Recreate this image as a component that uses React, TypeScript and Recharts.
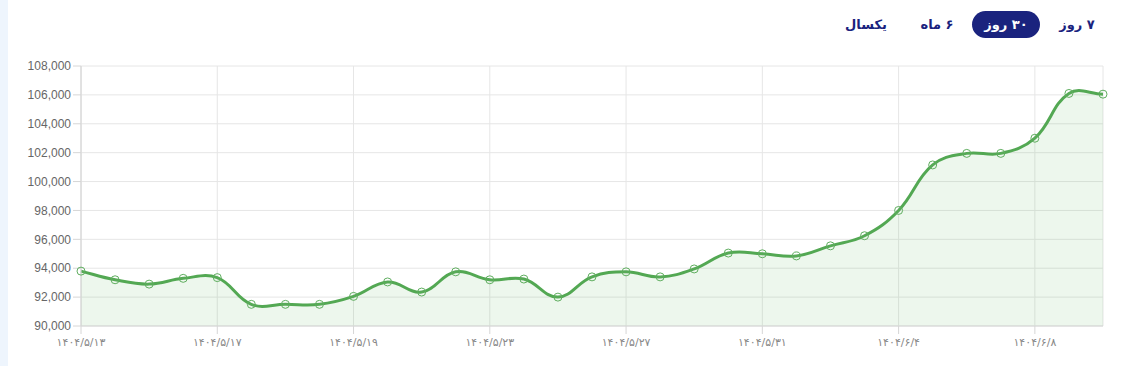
import React from "react";
import {
  AreaChart,
  Area,
  XAxis,
  YAxis,
  CartesianGrid,
} from "recharts";

// dates on the x axis (only every 4th one is labelled)
const dates = [
  "۱۴۰۴/۵/۱۳", "۱۴۰۴/۵/۱۴", "۱۴۰۴/۵/۱۵", "۱۴۰۴/۵/۱۶", "۱۴۰۴/۵/۱۷",
  "۱۴۰۴/۵/۱۷ ", "۱۴۰۴/۵/۱۸", "۱۴۰۴/۵/۱۸ ", "۱۴۰۴/۵/۱۹", "۱۴۰۴/۵/۲۰",
  "۱۴۰۴/۵/۲۱", "۱۴۰۴/۵/۲۲", "۱۴۰۴/۵/۲۳", "۱۴۰۴/۵/۲۴", "۱۴۰۴/۵/۲۵",
  "۱۴۰۴/۵/۲۶", "۱۴۰۴/۵/۲۷", "۱۴۰۴/۵/۲۸", "۱۴۰۴/۵/۲۹", "۱۴۰۴/۵/۳۰",
  "۱۴۰۴/۵/۳۱", "۱۴۰۴/۶/۱", "۱۴۰۴/۶/۲", "۱۴۰۴/۶/۳", "۱۴۰۴/۶/۴",
  "۱۴۰۴/۶/۵", "۱۴۰۴/۶/۶", "۱۴۰۴/۶/۷", "۱۴۰۴/۶/۸", "۱۴۰۴/۶/۹",
  "۱۴۰۴/۶/۱۰",
];

const prices = [
  93800, 93200, 92900, 93300, 93350, 91500, 91500, 91500, 92050, 93050,
  92350, 93750, 93200, 93250, 92000, 93400, 93750, 93400, 93950, 95050,
  95000, 94850, 95550, 96250, 98000, 101150, 101950, 101950, 103000, 106100,
  106050,
];

const yTicks = [90000, 92000, 94000, 96000, 98000, 100000, 102000, 104000, 106000, 108000];

const ranges = ["۷ روز", "۳۰ روز", "۶ ماه", "یکسال"];
const activeRange = "۳۰ روز";

const data = dates.map((date, i) => ({ date, price: prices[i] }));

// spline like chart.js (tension 0.4), written as a d3 curve factory
function smoothCurve(context: any) {
  let pts: number[][] = [];
  let line = NaN;
  const t = 0.4;
  return {
    areaStart() {
      line = 0;
    },
    areaEnd() {
      line = NaN;
    },
    lineStart() {
      pts = [];
    },
    lineEnd() {
      const n = pts.length;
      if (n) {
        if (line) context.lineTo(pts[0][0], pts[0][1]);
        else context.moveTo(pts[0][0], pts[0][1]);
        const cps = pts.map((cur, i) => {
          const prev = pts[i - 1] || cur;
          const next = pts[i + 1] || cur;
          const d01 = Math.hypot(cur[0] - prev[0], cur[1] - prev[1]);
          const d12 = Math.hypot(next[0] - cur[0], next[1] - cur[1]);
          let s01 = d01 / (d01 + d12);
          let s12 = d12 / (d01 + d12);
          if (!isFinite(s01)) s01 = 0;
          if (!isFinite(s12)) s12 = 0;
          const fa = t * s01;
          const fb = t * s12;
          return {
            px: cur[0] - fa * (next[0] - prev[0]),
            py: cur[1] - fa * (next[1] - prev[1]),
            nx: cur[0] + fb * (next[0] - prev[0]),
            ny: cur[1] + fb * (next[1] - prev[1]),
          };
        });
        for (let i = 1; i < n; i++) {
          context.bezierCurveTo(
            cps[i - 1].nx, cps[i - 1].ny,
            cps[i].px, cps[i].py,
            pts[i][0], pts[i][1]
          );
        }
      }
      if (line || (line !== 0 && n === 1)) context.closePath();
      line = 1 - line;
    },
    point(x: number, y: number) {
      pts.push([+x, +y]);
    },
  };
}

const rangeBoxes = [
  { left: 1053, width: 48 },
  { left: 972, width: 68 },
  { left: 913, width: 48 },
  { left: 838, width: 56 },
];

export default function App() {
  return (
    <div
      style={{
        position: "relative",
        width: 1123,
        height: 366,
        background: "#fff",
        overflow: "hidden",
      }}
    >
      <style>{`body{margin:0}`}</style>
      <div
        style={{
          position: "absolute",
          left: 0,
          top: 0,
          width: 8,
          height: 366,
          background: "#eef5fd",
        }}
      />
      {ranges.map((r, i) => {
        const active = r === activeRange;
        return (
          <div
            key={r}
            dir="rtl"
            style={{
              position: "absolute",
              top: 11,
              left: rangeBoxes[i].left,
              width: rangeBoxes[i].width,
              height: 27,
              lineHeight: "27px",
              textAlign: "center",
              borderRadius: 14,
              background: active ? "#1a237e" : "transparent",
              color: active ? "#fff" : "#1a237e",
              fontFamily: "'DejaVu Sans', sans-serif",
              fontSize: 13,
              fontWeight: 700,
            }}
          >
            {r}
          </div>
        );
      })}
      <AreaChart
        width={1123}
        height={366}
        data={data}
        margin={{ top: 66, right: 20, bottom: 10, left: 0 }}
      >
        <CartesianGrid stroke="#e6e6e6" />
        <XAxis
          dataKey="date"
          interval={3}
          height={30}
          tickSize={8}
          tickMargin={4}
          stroke="#d6d6d6"
          tick={{ fill: "#888", fontSize: 11, fontFamily: "'DejaVu Sans', sans-serif" }}
          tickFormatter={(d: string) => d.trim()}
        />
        <YAxis
          width={81}
          domain={[90000, 108000]}
          ticks={yTicks}
          tickSize={8}
          tickMargin={2}
          stroke="#d6d6d6"
          tick={{ fill: "#666", fontSize: 12, fontFamily: "'Liberation Sans', Arial, sans-serif" }}
          tickFormatter={(v: number) => v.toLocaleString("en-US")}
        />
        <Area
          type={smoothCurve as any}
          dataKey="price"
          stroke="#53a853"
          strokeWidth={3}
          fill="#4caf50"
          fillOpacity={0.1}
          dot={{ r: 4, stroke: "#5fae5f", strokeWidth: 1, fill: "rgba(255,255,255,0.25)" }}
          activeDot={false}
          isAnimationActive={false}
        />
      </AreaChart>
    </div>
  );
}
